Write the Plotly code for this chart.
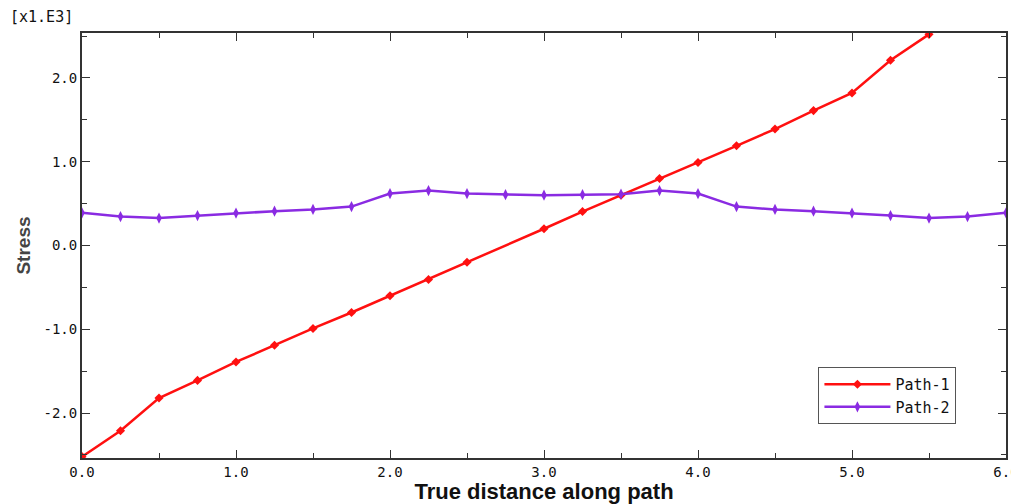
import plotly.graph_objects as go

# Path-1 data (stress in x1.E3)
p1_x = [0.0, 0.25, 0.5, 0.75, 1.0, 1.25, 1.5, 1.75, 2.0, 2.25, 2.5,
        3.0, 3.25, 3.5, 3.75, 4.0, 4.25, 4.5, 4.75, 5.0, 5.25, 5.5]
p1_y = [-2.52, -2.21, -1.82, -1.61, -1.39, -1.19, -0.99, -0.80, -0.60, -0.405, -0.20,
        0.20, 0.405, 0.60, 0.80, 0.99, 1.19, 1.39, 1.61, 1.82, 2.21, 2.52]

# Path-2 data
p2_x = [0.0, 0.25, 0.5, 0.75, 1.0, 1.25, 1.5, 1.75, 2.0, 2.25, 2.5, 2.75,
        3.0, 3.25, 3.5, 3.75, 4.0, 4.25, 4.5, 4.75, 5.0, 5.25, 5.5, 5.75, 6.0]
p2_y = [0.39, 0.345, 0.327, 0.357, 0.387, 0.41, 0.43, 0.464, 0.62, 0.655, 0.62, 0.607,
        0.60, 0.607, 0.613, 0.655, 0.62, 0.464, 0.43, 0.41, 0.387, 0.357, 0.327, 0.345, 0.39]

# Tick labels
x_tickvals = [0, 1, 2, 3, 4, 5, 6]
x_ticktext = ["0.0", "1.0", "2.0", "3.0", "4.0", "5.0", "6.0"]
y_tickvals = [-2, -1, 0, 1, 2]
y_ticktext = ["-2.0", "-1.0", "0.0", "1.0", "2.0"]

fig = go.Figure()
fig.add_trace(go.Scatter(x=p1_x, y=p1_y, name="Path-1", mode="lines+markers",
                         line=dict(color="#ff1010", width=2.5),
                         marker=dict(symbol="diamond", size=7, color="#ff1010")))
fig.add_trace(go.Scatter(x=p2_x, y=p2_y, name="Path-2", mode="lines+markers",
                         line=dict(color="#8a2be2", width=2.5),
                         marker=dict(symbol="diamond-tall", size=8, color="#8a2be2")))

axis_common = dict(showgrid=False, zeroline=False, showline=True, linecolor="#333333",
                   linewidth=2, mirror="ticks", ticks="inside", ticklen=8, tickwidth=1,
                   tickcolor="#333333", automargin=False,
                   tickfont=dict(family="DejaVu Sans Mono", size=14, color="#111111"))

fig.update_xaxes(range=[0, 6.0], tickmode="array", tickvals=x_tickvals, ticktext=x_ticktext,
                 minor=dict(dtick=0.5, tick0=0, ticks="inside", ticklen=5, tickcolor="#333333"),
                 title=dict(text="<b>True distance along path</b>", standoff=0,
                            font=dict(family="Liberation Sans", size=22, color="#111111")),
                 **axis_common)
fig.update_yaxes(range=[-2.536, 2.536], tickmode="array", tickvals=y_tickvals, ticktext=y_ticktext,
                 minor=dict(dtick=0.5, tick0=0, ticks="inside", ticklen=5, tickcolor="#333333"),
                 title=dict(text="<b>Stress</b>", standoff=8,
                            font=dict(family="Liberation Sans", size=19, color="#444444")),
                 **axis_common)

fig.add_annotation(text="[x1.E3]", xref="paper", yref="paper", x=-0.080, y=1.0,
                   xanchor="left", yanchor="bottom", yshift=5, showarrow=False,
                   font=dict(family="DejaVu Sans Mono", size=15, color="#111111"))

# page body has an 8px margin, so the figure is sized to fit the 1019x504 window
fig.update_layout(width=1011, height=496, plot_bgcolor="white", paper_bgcolor="white",
                  margin=dict(l=74, r=13, t=25, b=46),
                  legend=dict(x=0.797, y=0.214, xanchor="left", yanchor="top",
                              bordercolor="#555555", borderwidth=1, bgcolor="white",
                              font=dict(family="DejaVu Sans Mono", size=15, color="#111111"),
                              itemwidth=66, tracegroupgap=0))

fig.write_html("out.html")
